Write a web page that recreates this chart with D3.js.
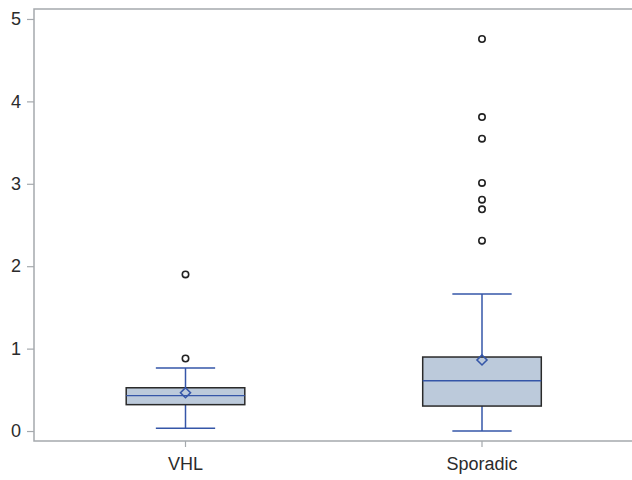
<!DOCTYPE html>
<html><head><meta charset="utf-8">
<script src="https://cdn.jsdelivr.net/npm/d3@7"></script>
<style>body{margin:0;background:#fff}svg{display:block}</style>
</head><body>
<script>
const categories = ["VHL", "Sporadic"];
const q1 = [0.32, 0.303];
const median = [0.43, 0.61];
const q3 = [0.525, 0.898];
const mean = [0.465, 0.862];
const whiskerLow = [0.033, 0.0];
const whiskerHigh = [0.765, 1.663];
const outliers = [[1.90, 0.88], [4.757, 3.81, 3.547, 3.01, 2.807, 2.69, 2.31]];
const yTicks = [0, 1, 2, 3, 4, 5];

const W = 632, H = 480;
const m = {l: 34, t: 9, r: -2, b: 39};
const svg = d3.select("body").append("svg").attr("width", W).attr("height", H);
const x = d3.scaleBand().domain(categories).range([37.25, 630.25]).paddingInner(0.6).paddingOuter(0.3);
const y = d3.scaleLinear().domain([-0.121, 5.121]).range([H - m.b, m.t]);

const font = "'Liberation Sans', Arial, sans-serif";
const gray = "#a5a9ad";
// frame
svg.append("rect").attr("x", m.l).attr("y", m.t).attr("width", W - m.r - m.l).attr("height", H - m.b - m.t)
  .attr("fill", "none").attr("stroke", gray).attr("stroke-width", 1.5);

const ya = svg.append("g").attr("transform", `translate(${m.l},0)`)
  .call(d3.axisLeft(y).tickValues(yTicks).tickSize(7).tickPadding(6).tickFormat(d3.format("d")));
ya.select(".domain").remove();
ya.selectAll("line").attr("stroke", gray).attr("stroke-width", 1.2);
ya.selectAll("text").attr("font-family", font).attr("font-size", 18).attr("fill", "#2b2b2b");

const xa = svg.append("g").attr("transform", `translate(0,${H - m.b})`)
  .call(d3.axisBottom(x).tickSize(6).tickPadding(10));
xa.select(".domain").remove();
xa.selectAll("line").attr("stroke", gray).attr("stroke-width", 1.2);
xa.selectAll("text").attr("font-family", font).attr("font-size", 18).attr("fill", "#2b2b2b");

const blue = "#3556a8";
categories.forEach((c, i) => {
  const cx = x(c) + x.bandwidth() / 2;
  const bw = x.bandwidth();
  const capW = bw * 0.5;
  const g = svg.append("g");
  g.append("line").attr("x1", cx).attr("x2", cx).attr("y1", y(q3[i])).attr("y2", y(whiskerHigh[i])).attr("stroke", blue).attr("stroke-width", 1.5);
  g.append("line").attr("x1", cx).attr("x2", cx).attr("y1", y(q1[i])).attr("y2", y(whiskerLow[i])).attr("stroke", blue).attr("stroke-width", 1.5);
  [whiskerHigh[i], whiskerLow[i]].forEach(v => {
    g.append("line").attr("x1", cx - capW / 2).attr("x2", cx + capW / 2).attr("y1", y(v)).attr("y2", y(v)).attr("stroke", blue).attr("stroke-width", 1.5);
  });
  g.append("rect").attr("x", x(c)).attr("width", bw).attr("y", y(q3[i])).attr("height", y(q1[i]) - y(q3[i]))
    .attr("fill", "#bccadb").attr("stroke", "#2a2a2a").attr("stroke-width", 1.5);
  g.append("line").attr("x1", x(c)).attr("x2", x(c) + bw).attr("y1", y(median[i])).attr("y2", y(median[i])).attr("stroke", blue).attr("stroke-width", 1.3);
  const my = y(mean[i]), d = 5;
  g.append("path").attr("d", `M${cx},${my - d}L${cx + d},${my}L${cx},${my + d}L${cx - d},${my}Z`)
    .attr("fill", "none").attr("stroke", blue).attr("stroke-width", 1.6);
  outliers[i].forEach(v => {
    g.append("circle").attr("cx", cx).attr("cy", y(v)).attr("r", 3.2).attr("fill", "none").attr("stroke", "#222").attr("stroke-width", 1.6);
  });
});
</script>
</body></html>
